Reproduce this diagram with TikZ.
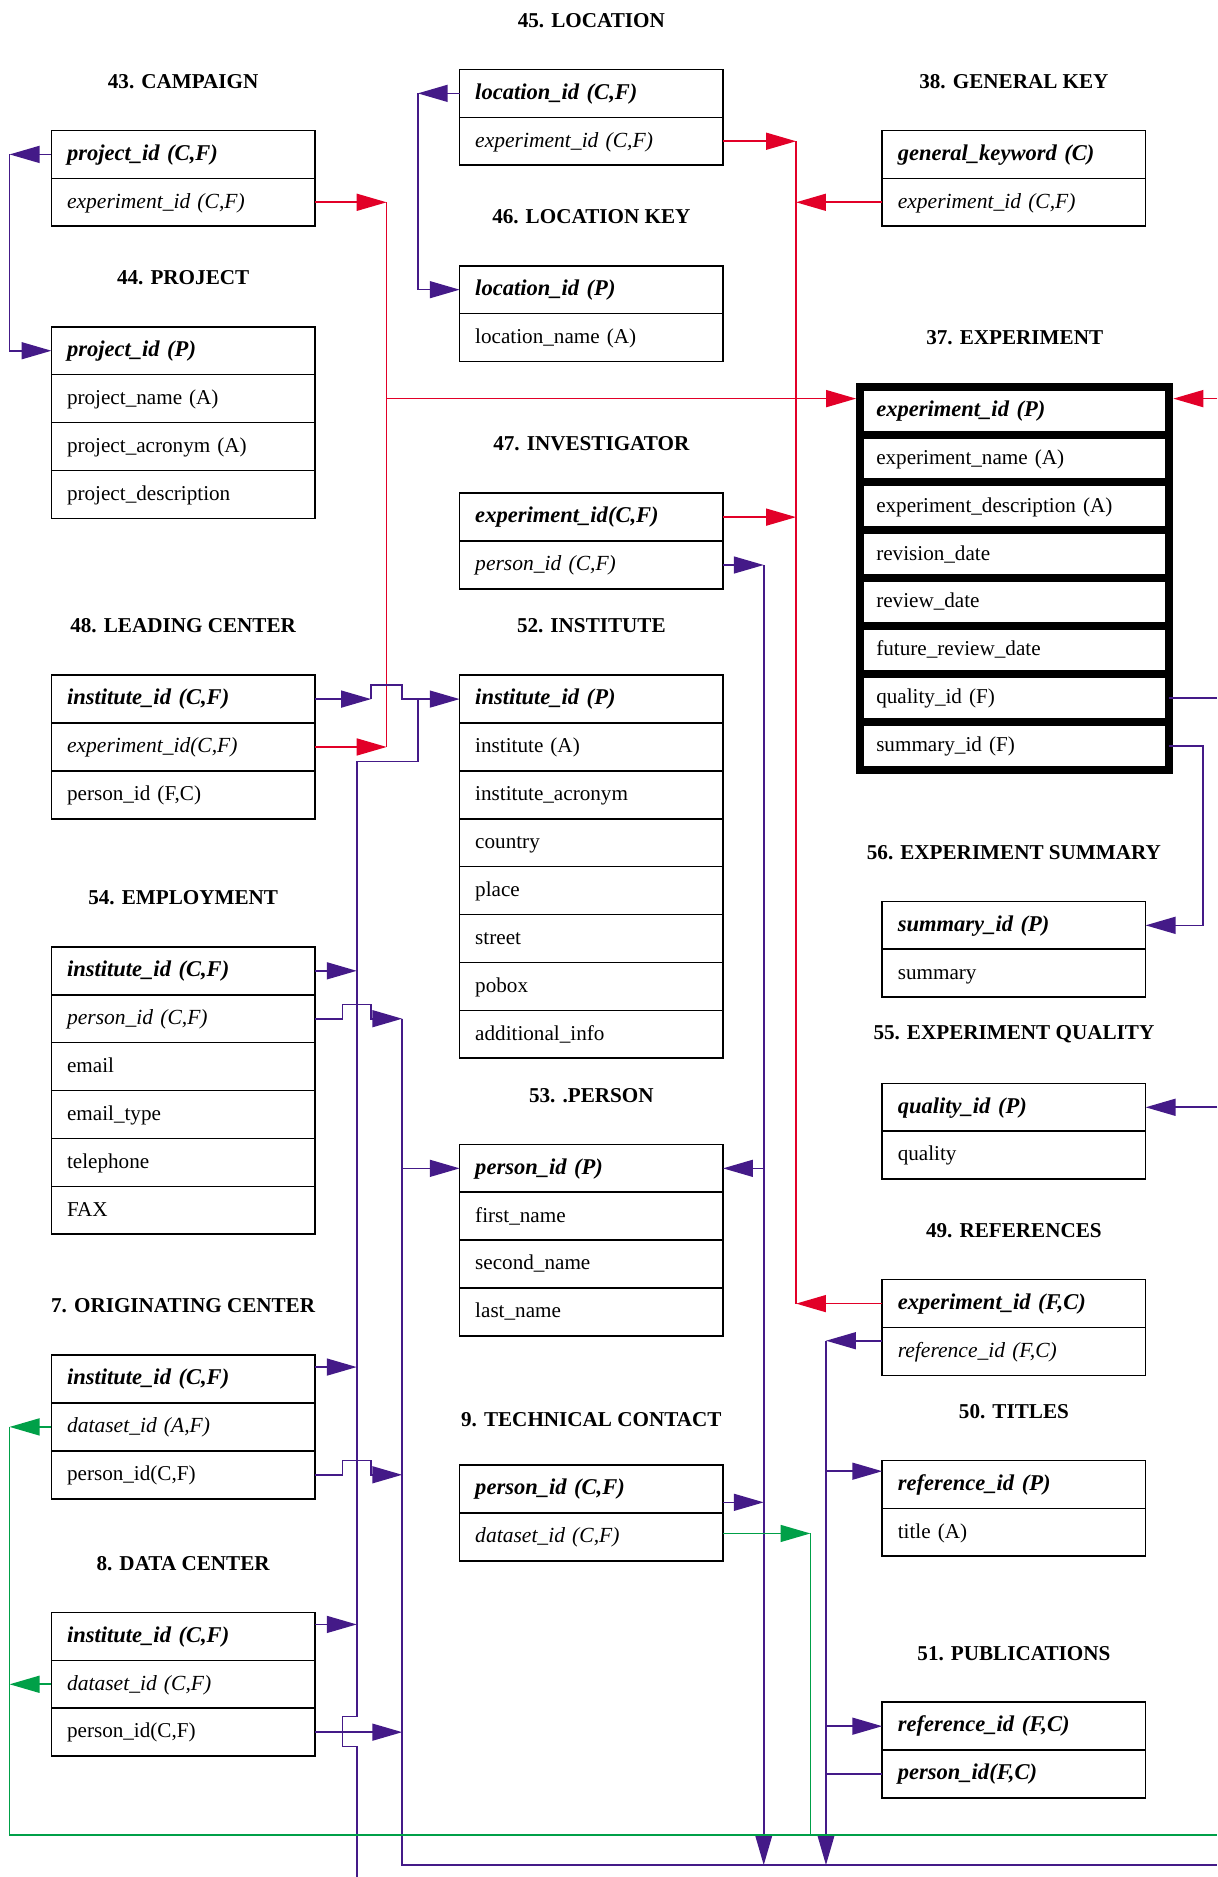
\documentclass[tikz,border=0pt]{standalone}
\usepackage{fontspec}
\setmainfont{Liberation Serif}
\usetikzlibrary{positioning,arrows.meta}

\definecolor{fkred}{RGB}{226,0,40}
\definecolor{fkpurple}{RGB}{68,26,136}
\definecolor{fkgreen}{RGB}{0,160,72}

\begin{document}
\begin{tikzpicture}[x=0.6pt, y=-0.6pt, node distance=0pt]
\tikzstyle{field}=[draw, line width=0.8pt, outer sep=0pt, minimum width=132pt, minimum height=24pt,
  inner xsep=7.8pt, inner ysep=0pt, text width=116.4pt, text height=8.3pt, text depth=2.5pt,
  align=left, anchor=north west, font=\fontsize{10.6}{13}\selectfont]
\tikzstyle{keyfield}=[field, font=\fontsize{11.3}{13}\selectfont\bfseries\itshape]
\tikzstyle{fkfield}=[field, font=\fontsize{10.8}{13}\selectfont\itshape]
\tikzstyle{expfield}=[field, line width=4pt, minimum width=155pt, inner xsep=8.1pt, text width=138.8pt]
\tikzstyle{tabletitle}=[font=\fontsize{10.6}{13}\selectfont\bfseries, inner sep=0pt]
\tikzstyle{link}=[line width=0.8pt]
\tikzstyle{arr}=[link, -{Triangle[length=15pt,width=8.5pt]}]

\useasboundingbox (0,0) rectangle (1017,1568);

% left column
\node[keyfield] (camp1) at (43,109) {project\_id (C,F)};
\node[fkfield, below=of camp1] (camp2) {experiment\_id (C,F)};
\node[tabletitle] (campT) at ([yshift=24.6pt]camp1.north) {43. CAMPAIGN};

\node[keyfield] (proj1) at (43,273) {project\_id (P)};
\node[field, below=of proj1] (proj2) {project\_name (A)};
\node[field, below=of proj2] (proj3) {project\_acronym (A)};
\node[field, below=of proj3] (proj4) {project\_description};
\node[tabletitle] (projT) at ([yshift=24.6pt]proj1.north) {44. PROJECT};

\node[keyfield] (lead1) at (43,564) {institute\_id (C,F)};
\node[fkfield, below=of lead1] (lead2) {experiment\_id(C,F)};
\node[field, below=of lead2] (lead3) {person\_id (F,C)};
\node[tabletitle] (leadT) at ([yshift=24.6pt]lead1.north) {48. LEADING CENTER};

\node[keyfield] (empl1) at (43,791) {institute\_id (C,F)};
\node[fkfield, below=of empl1] (empl2) {person\_id (C,F)};
\node[field, below=of empl2] (empl3) {email};
\node[field, below=of empl3] (empl4) {email\_type};
\node[field, below=of empl4] (empl5) {telephone};
\node[field, below=of empl5] (empl6) {FAX};
\node[tabletitle] (emplT) at ([yshift=24.6pt]empl1.north) {54. EMPLOYMENT};

\node[keyfield] (orig1) at (43,1132) {institute\_id (C,F)};
\node[fkfield, below=of orig1] (orig2) {dataset\_id (A,F)};
\node[field, below=of orig2] (orig3) {person\_id(C,F)};
\node[tabletitle] (origT) at ([yshift=24.6pt]orig1.north) {7. ORIGINATING CENTER};

\node[keyfield] (datac1) at (43,1347) {institute\_id (C,F)};
\node[fkfield, below=of datac1] (datac2) {dataset\_id (C,F)};
\node[field, below=of datac2] (datac3) {person\_id(C,F)};
\node[tabletitle] (datacT) at ([yshift=24.6pt]datac1.north) {8. DATA CENTER};

% middle column
\node[keyfield] (loc1) at (384,58) {location\_id (C,F)};
\node[fkfield, below=of loc1] (loc2) {experiment\_id (C,F)};
\node[tabletitle] (locT) at ([yshift=24.6pt]loc1.north) {45. LOCATION};

\node[keyfield] (lkey1) at (384,222) {location\_id (P)};
\node[field, below=of lkey1] (lkey2) {location\_name (A)};
\node[tabletitle] (lkeyT) at ([yshift=24.6pt]lkey1.north) {46. LOCATION KEY};

\node[keyfield] (inv1) at (384,412) {experiment\_id(C,F)};
\node[fkfield, below=of inv1] (inv2) {person\_id (C,F)};
\node[tabletitle] (invT) at ([yshift=24.6pt]inv1.north) {47. INVESTIGATOR};

\node[keyfield] (inst1) at (384,564) {institute\_id (P)};
\node[field, below=of inst1] (inst2) {institute (A)};
\node[field, below=of inst2] (inst3) {institute\_acronym};
\node[field, below=of inst3] (inst4) {country};
\node[field, below=of inst4] (inst5) {place};
\node[field, below=of inst5] (inst6) {street};
\node[field, below=of inst6] (inst7) {pobox};
\node[field, below=of inst7] (inst8) {additional\_info};
\node[tabletitle] (instT) at ([yshift=24.6pt]inst1.north) {52. INSTITUTE};

\node[keyfield] (pers1) at (384,956) {person\_id (P)};
\node[field, below=of pers1] (pers2) {first\_name};
\node[field, below=of pers2] (pers3) {second\_name};
\node[field, below=of pers3] (pers4) {last\_name};
\node[tabletitle] (persT) at ([yshift=24.6pt]pers1.north) {53. .PERSON};

\node[keyfield] (tech1) at (384,1224) {person\_id (C,F)};
\node[fkfield, below=of tech1] (tech2) {dataset\_id (C,F)};
\node[tabletitle] (techT) at ([yshift=23pt]tech1.north) {9. TECHNICAL CONTACT};

% right column
\node[keyfield] (gkey1) at (737,109) {general\_keyword (C)};
\node[fkfield, below=of gkey1] (gkey2) {experiment\_id (C,F)};
\node[tabletitle] (gkeyT) at ([yshift=24.6pt]gkey1.north) {38. GENERAL KEY};

\node[expfield, font=\fontsize{11.3}{13}\selectfont\bfseries\itshape] (exp1) at (718.5,323) {experiment\_id (P)};
\node[expfield, below=of exp1] (exp2) {experiment\_name (A)};
\node[expfield, below=of exp2] (exp3) {experiment\_description (A)};
\node[expfield, below=of exp3] (exp4) {revision\_date};
\node[expfield, below=of exp4] (exp5) {review\_date};
\node[expfield, below=of exp5] (exp6) {future\_review\_date};
\node[expfield, below=of exp6] (exp7) {quality\_id (F)};
\node[expfield, below=of exp7] (exp8) {summary\_id (F)};
\node[tabletitle] (expT) at ([yshift=24.6pt]exp1.north) {37. EXPERIMENT};

\node[keyfield] (summ1) at (737,753) {summary\_id (P)};
\node[field, below=of summ1] (summ2) {summary};
\node[tabletitle] (summT) at ([yshift=24.6pt]summ1.north) {56. EXPERIMENT SUMMARY};

\node[keyfield] (qual1) at (737,905) {quality\_id (P)};
\node[field, below=of qual1] (qual2) {quality};
\node[tabletitle] (qualT) at ([yshift=24.6pt]qual1.north) {55. EXPERIMENT QUALITY};

\node[keyfield] (ref1) at (737,1069) {experiment\_id (F,C)};
\node[fkfield, below=of ref1] (ref2) {reference\_id (F,C)};
\node[tabletitle] (refT) at ([yshift=24.6pt]ref1.north) {49. REFERENCES};

\node[keyfield] (tit1) at (737,1220) {reference\_id (P)};
\node[field, below=of tit1] (tit2) {title (A)};
\node[tabletitle] (titT) at ([yshift=24.6pt]tit1.north) {50. TITLES};

\node[keyfield] (pub1) at (737,1422) {reference\_id (F,C)};
\node[keyfield, below=of pub1] (pub2) {person\_id(F,C)};
\node[tabletitle] (pubT) at ([yshift=24.6pt]pub1.north) {51. PUBLICATIONS};

% bus lines
\coordinate (loopA) at (8,0);
\coordinate (loopB) at (349,0);
\coordinate (busR1) at (323,0);
\coordinate (busR2) at (665,0);
\coordinate (busP1) at (298,0);
\coordinate (busP2) at (336,0);
\coordinate (busP3) at (638,0);
\coordinate (busP4) at (690,0);
\coordinate (busG) at (677,0);
\coordinate (hopA) at (310,0);
\coordinate (sumR) at (1005,0);
\coordinate (edgeR) at (1017,0);
\coordinate (floorG) at (0,1533);
\coordinate (floorP) at (0,1558);
\coordinate (bottom) at (0,1568);

\coordinate (expIn) at ([yshift=6pt]exp1.west);
\coordinate (expInR) at ([yshift=6pt]exp1.east);
\coordinate (techOut) at ([yshift=-6.6pt]tech1.east);
\coordinate (techData) at ([yshift=1.8pt]tech2.east);
\coordinate (origIn) at ([yshift=6pt]orig1.east);
\coordinate (datacIn) at ([yshift=6pt]datac1.east);
\coordinate (refOut) at ([yshift=5.4pt]ref2.west);
\coordinate (titIn) at ([yshift=6.6pt]tit1.west);

% experiment_id
\draw[arr, fkred] (camp2.east) -- (camp2.east -| busR1);
\draw[arr, fkred] (lead2.east) -- (lead2.east -| busR1);
\draw[link, fkred] (camp2.east -| busR1) -- (lead2.east -| busR1);
\draw[arr, fkred, shorten >=2pt] (expIn -| busR1) -- (expIn);
\draw[arr, fkred, shorten >=2pt] (expInR -| edgeR) -- (expInR);

\draw[arr, fkred] (loc2.east) -- (loc2.east -| busR2);
\draw[arr, fkred] (gkey2.west) -- (gkey2.west -| busR2);
\draw[arr, fkred] (inv1.east) -- (inv1.east -| busR2);
\draw[arr, fkred] (ref1.west) -- (ref1.west -| busR2);
\draw[link, fkred] (loc2.east -| busR2) -- (ref1.west -| busR2);

% project_id, location_id
\draw[arr, fkpurple] (camp1.west) -- (camp1.west -| loopA);
\draw[arr, fkpurple] (camp1.west -| loopA) |- (proj1.west);
\draw[arr, fkpurple] (loc1.west) -- (loc1.west -| loopB);
\draw[arr, fkpurple] (loc1.west -| loopB) |- (lkey1.west);

% institute_id
\draw[arr, fkpurple] (lead1.east) -- (lead1.east -| hopA);
\draw[arr, fkpurple] (lead1.east -| hopA) -- ++(0,-12) -| (inst1.west -| busP2) -- (inst1.west);
\draw[link, fkpurple] (inst1.west -| loopB) -- ++(0,52) -| ([yshift=7.8pt]datac3.east -| busP1)
  -- ++(-12,0) -- ++(0,25) -- ++(12,0) -- (bottom -| busP1);
\draw[arr, fkpurple] (empl1.east) -- (empl1.east -| busP1);
\draw[arr, fkpurple] (origIn) -- (origIn -| busP1);
\draw[arr, fkpurple] (datacIn) -- (datacIn -| busP1);

% person_id
\draw[arr, fkpurple] (empl2.east) -- ++(23,0) -- ++(0,-12) -- ++(24,0) -- ++(0,12) -- (empl2.east -| busP2);
\draw[arr, fkpurple] (orig3.east) -- ++(23,0) -- ++(0,-12) -- ++(24,0) -- ++(0,12) -- (orig3.east -| busP2);
\draw[arr, fkpurple] (datac3.east) -- (datac3.east -| busP2);
\draw[link, fkpurple] (empl2.east -| busP2) |- (floorP -| edgeR);
\draw[arr, fkpurple] (pers1.west -| busP2) -- (pers1.west);

\draw[arr, fkpurple] (inv2.east) -- (inv2.east -| busP3);
\draw[arr, fkpurple] (inv2.east -| busP3) -- (floorP -| busP3);
\draw[arr, fkpurple] (pers1.east -| busP3) -- (pers1.east);
\draw[arr, fkpurple] (techOut) -- (techOut -| busP3);

% quality_id, summary_id
\draw[link, fkpurple] (exp7.east) -- (exp7.east -| edgeR);
\draw[arr, fkpurple] (exp8.east) -- (exp8.east -| sumR) |- (summ1.east);
\draw[arr, fkpurple] (qual1.east -| edgeR) -- (qual1.east);

% reference_id
\draw[arr, fkpurple] (refOut) -- (refOut -| busP4);
\draw[arr, fkpurple] (refOut -| busP4) -- (floorP -| busP4);
\draw[arr, fkpurple] (titIn -| busP4) -- (titIn);
\draw[arr, fkpurple] (pub1.west -| busP4) -- (pub1.west);
\draw[link, fkpurple] (pub2.west) -- (pub2.west -| busP4);

% dataset_id
\draw[arr, fkgreen] (orig2.west) -- (orig2.west -| loopA);
\draw[arr, fkgreen] (datac2.west) -- (datac2.west -| loopA);
\draw[link, fkgreen] (orig2.west -| loopA) |- (floorG -| edgeR);
\draw[arr, fkgreen] (techData) -- (techData -| busG);
\draw[link, fkgreen] (techData -| busG) -- (floorG -| busG);

\end{tikzpicture}
\end{document}
